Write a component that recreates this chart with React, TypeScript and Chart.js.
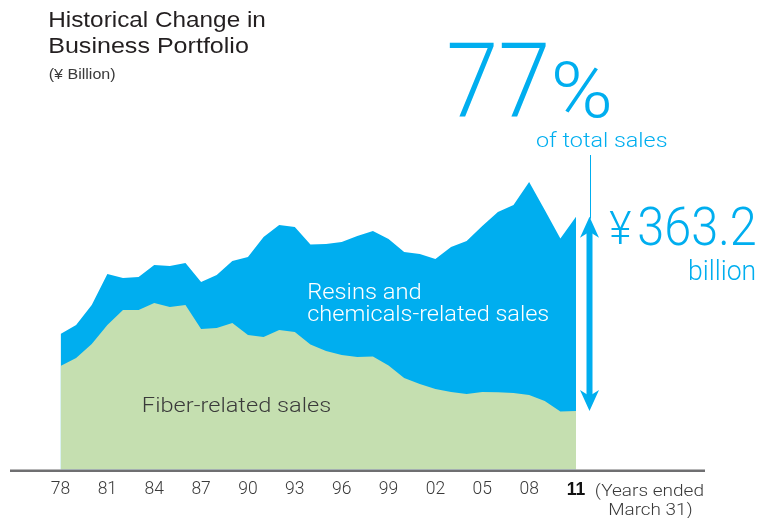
import { useEffect, useRef } from 'react';
import { Chart, registerables } from 'chart.js';

Chart.register(...registerables);

const YEARS = ['78','79','80','81','82','83','84','85','86','87','88','89','90','91','92','93','94','95','96','97','98','99','00','01','02','03','04','05','06','07','08','09','10','11'];
const FIBER = [148.7,160.2,180.3,207.6,229.2,229.2,239.2,233.5,236.4,201.9,203.3,210.5,193.2,190.4,200.4,197.6,179.6,170.3,164.5,161.6,162.4,149.4,131.5,122.8,115.7,111.4,108.5,111.4,111.0,109.9,107.0,98.4,83.3,84.1];
const RESINS = [46.0,47.4,56.1,73.3,45.9,47.4,54.6,58.9,60.3,67.5,76.2,89.1,112.1,143.7,150.9,150.8,143.7,153.7,162.4,173.9,180.3,181.8,181.0,186.8,186.7,208.3,219.8,238.5,259.0,270.1,306.1,274.4,248.6,279.1];
const SHARE_LABEL = ['77', '%', 'of total sales'];
const TOTAL_LABEL = ['¥', '363.2', 'billion'];
const TITLE_LINES = ['Historical Change in', 'Business Portfolio'];
const UNIT_LABEL = '(¥ Billion)';
const SERIES_LABELS = ['Fiber-related sales', 'Resins and', 'chemicals-related sales'];
const AXIS_NOTE = ['(Years ended', 'March 31)'];

const BLUE = '#00aeef';
const GREEN = '#c5dfb0';
const FONT = '"Roboto", "Liberation Sans", Arial, sans-serif';
const TFONT = '"Liberation Sans", Arial, sans-serif';
const TICK_SIZE = 17.5;
const TICK_PAD = 10;

function fitText(ctx: CanvasRenderingContext2D, str: string, x: number, y: number, size: number, width: number, color: string, weight = '300', family = FONT) {
  ctx.save();
  ctx.font = `${weight} ${size}px ${family}`;
  ctx.fillStyle = color;
  ctx.textBaseline = 'alphabetic';
  ctx.textAlign = 'left';
  const m = ctx.measureText(str);
  const w = m.actualBoundingBoxRight + m.actualBoundingBoxLeft || m.width;
  const sx = width / w;
  ctx.translate(x, y);
  ctx.scale(sx, 1);
  ctx.fillText(str, m.actualBoundingBoxLeft || 0, 0);
  ctx.restore();
}

const annotationPlugin = {
  id: 'annotations',
  afterDraw(chart: any) {
    const ctx: CanvasRenderingContext2D = chart.ctx;
    const xs = chart.scales.x;
    const ys = chart.scales.y;
    const area = chart.chartArea;
    const last = YEARS.length - 1;

    // baseline axis line
    ctx.save();
    ctx.fillStyle = '#6f6f71';
    ctx.fillRect(10, area.bottom, 695, 2.5);
    ctx.restore();

    // bold label for the latest year, placed on the x scale like the other ticks
    ctx.save();
    ctx.font = `bold ${TICK_SIZE}px ${TFONT}`;
    ctx.fillStyle = '#111111';
    ctx.textAlign = 'center';
    ctx.textBaseline = 'middle';
    ctx.fillText(YEARS[last], xs.getPixelForValue(last), xs.top + TICK_PAD + (TICK_SIZE * 1.2) / 2);
    ctx.restore();

    // double arrow for the resins share in the last year
    const ax = xs.getPixelForValue(last) + 13.5;
    const top = ys.getPixelForValue(FIBER[last] + RESINS[last]);
    const bot = ys.getPixelForValue(FIBER[last]);
    ctx.save();
    ctx.fillStyle = BLUE;
    ctx.fillRect(ax - 3, top + 14, 6, bot - top - 28);
    ctx.beginPath();
    ctx.moveTo(ax, top);
    ctx.lineTo(ax + 9.5, top + 21);
    ctx.lineTo(ax, top + 15);
    ctx.lineTo(ax - 9.5, top + 21);
    ctx.closePath();
    ctx.fill();
    ctx.beginPath();
    ctx.moveTo(ax, bot);
    ctx.lineTo(ax + 9.5, bot - 21);
    ctx.lineTo(ax, bot - 15);
    ctx.lineTo(ax - 9.5, bot - 21);
    ctx.closePath();
    ctx.fill();
    ctx.strokeStyle = BLUE;
    ctx.lineWidth = 1;
    ctx.beginPath();
    ctx.moveTo(Math.round(ax) + 0.5, 155);
    ctx.lineTo(Math.round(ax) + 0.5, top + 2);
    ctx.stroke();
    ctx.restore();

    // title
    fitText(ctx, TITLE_LINES[0], 49.3, 26.7, 22.5, 216, '#231f20', '400', TFONT);
    fitText(ctx, TITLE_LINES[1], 49.3, 52.7, 22.5, 199, '#231f20', '400', TFONT);
    fitText(ctx, UNIT_LABEL, 48.7, 79, 14.5, 66, '#3a3a3a', '400', TFONT);

    // share callout
    fitText(ctx, SHARE_LABEL[0], 449, 117, 104, 97, BLUE);
    fitText(ctx, SHARE_LABEL[1], 555, 117.3, 77, 55, BLUE);
    fitText(ctx, SHARE_LABEL[2], 536, 147.3, 19.5, 130.5, BLUE);

    // total callout
    fitText(ctx, TOTAL_LABEL[0], 609.3, 244.3, 46, 22.4, BLUE);
    fitText(ctx, TOTAL_LABEL[1], 639, 245, 54, 116, BLUE);
    fitText(ctx, TOTAL_LABEL[2], 690, 280, 27, 64.3, BLUE);

    // series labels
    fitText(ctx, SERIES_LABELS[1], 308.3, 299.3, 21.5, 112.4, '#ffffff');
    fitText(ctx, SERIES_LABELS[2], 308.3, 321, 21.5, 240, '#ffffff');
    fitText(ctx, SERIES_LABELS[0], 143, 411.7, 20.5, 187.7, '#3a3a3a');

    // axis note
    fitText(ctx, AXIS_NOTE[0], 596, 496, 16.5, 106.7, '#3a3a3a');
    fitText(ctx, AXIS_NOTE[1], 609.3, 515, 16.5, 83, '#3a3a3a');
  },
};

export default function App() {
  const ref = useRef<HTMLCanvasElement | null>(null);
  useEffect(() => {
    if (!ref.current) return;
    const last = YEARS.length - 1;
    const chart = new Chart(ref.current, {
      type: 'line',
      data: {
        labels: YEARS,
        datasets: [
          { label: SERIES_LABELS[0], data: FIBER, backgroundColor: GREEN, borderWidth: 0, pointRadius: 0, fill: 'origin', tension: 0 },
          { label: SERIES_LABELS[1] + ' ' + SERIES_LABELS[2], data: RESINS, backgroundColor: BLUE, borderWidth: 0, pointRadius: 0, fill: 'origin', tension: 0 },
        ],
      },
      options: {
        responsive: false,
        animation: false,
        layout: { padding: { left: 60.5, right: 196, top: 156.3, bottom: 0 } },
        plugins: { legend: { display: false }, tooltip: { enabled: false } },
        scales: {
          x: {
            offset: false,
            grid: { display: false, drawTicks: false },
            border: { display: false },
            ticks: {
              autoSkip: false,
              maxRotation: 0,
              padding: TICK_PAD,
              color: '#3a3a3a',
              font: { family: FONT, size: TICK_SIZE, weight: '300' },
              callback: (_v: any, i: number) => (i % 3 === 0 && i !== last ? YEARS[i] : null),
            },
            afterFit: (s: any) => { s.height = 48.5; },
          },
          y: { display: false, stacked: true, min: 0, max: 450 },
        },
      } as any,
      plugins: [annotationPlugin],
    });
    return () => chart.destroy();
  }, []);
  return (
    <div style={{ position: 'absolute', left: 0, top: 0, width: 772, height: 518 }}>
      <canvas ref={ref} width={772} height={518} style={{ display: 'block' }} />
    </div>
  );
}
